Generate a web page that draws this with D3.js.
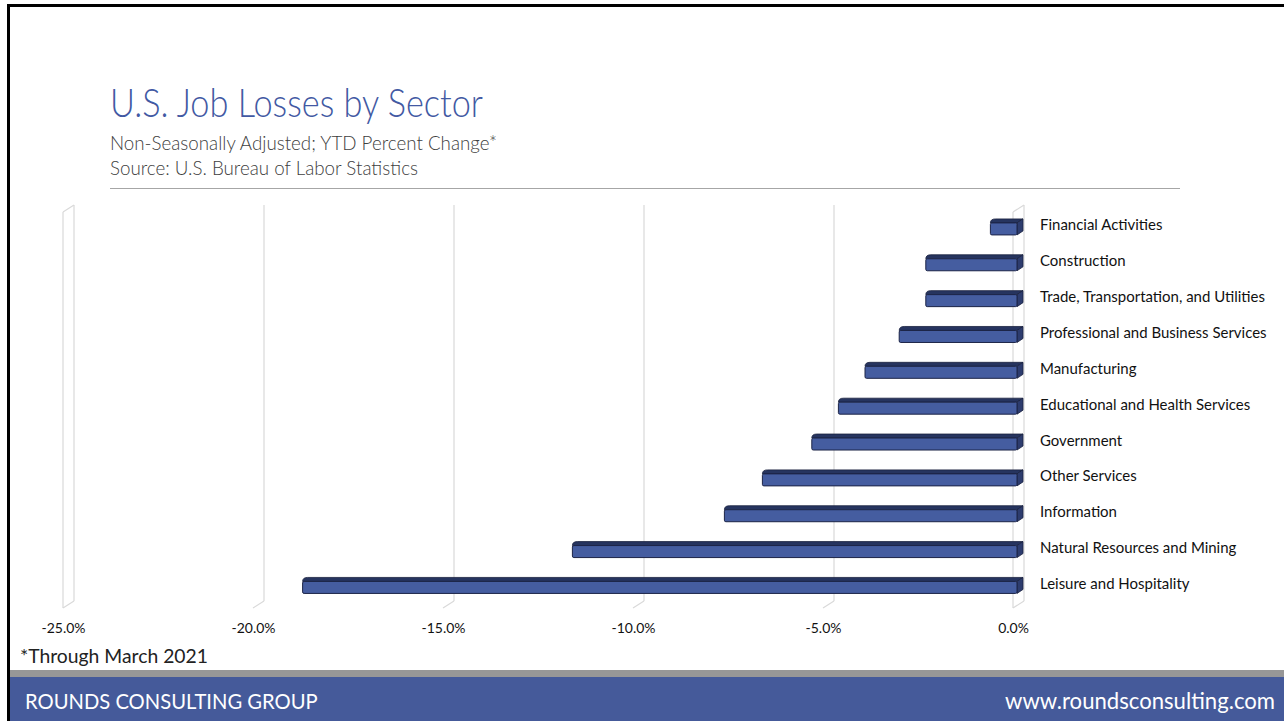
<!DOCTYPE html>
<html>
<head>
<meta charset="utf-8">
<script src="https://cdn.jsdelivr.net/npm/d3@7"></script>
<style>
  html, body { margin: 0; padding: 0; background: #fff; }
  svg { display: block; }
</style>
</head>
<body>
<svg id="chart" width="1284" height="721"></svg>
<script>
// Sectors, top to bottom
const sectors = [
  "Financial Activities",
  "Construction",
  "Trade, Transportation, and Utilities",
  "Professional and Business Services",
  "Manufacturing",
  "Educational and Health Services",
  "Government",
  "Other Services",
  "Information",
  "Natural Resources and Mining",
  "Leisure and Hospitality"
];
// YTD percent change in employment, through March 2021
const pctChange = [-0.7, -2.4, -2.4, -3.1, -4.0, -4.7, -5.4, -6.7, -7.7, -11.7, -18.8];
const tickValues = [-25, -20, -15, -10, -5, 0];

const svg = d3.select("#chart");
const W = 1284, H = 721;
const FONT = "Lato, 'Open Sans', sans-serif";

// Fit a text node's font size so it spans a given width
function fitWidth(sel, target) {
  const node = sel.node();
  const size = parseFloat(sel.attr("font-size"));
  const len = node.getComputedTextLength();
  if (len > 0) sel.attr("font-size", (size * target / len).toFixed(2));
  return sel;
}
// Keep the font size, squeeze the run to a given width
function squeeze(sel, target) {
  const len = sel.node().getComputedTextLength();
  if (len > target) sel.attr("textLength", target).attr("lengthAdjust", "spacingAndGlyphs");
  else fitWidth(sel, target);
  return sel;
}

// ---- Frame ----
svg.append("rect").attr("x", 0).attr("y", 0).attr("width", W).attr("height", H).attr("fill", "#fff");
svg.append("rect").attr("x", 7).attr("y", 4).attr("width", W - 7).attr("height", 3).attr("fill", "#000");
svg.append("rect").attr("x", 7).attr("y", 4).attr("width", 3).attr("height", H - 4).attr("fill", "#000");

// ---- Titles ----
const title = svg.append("text")
  .attr("x", 110).attr("y", 117)
  .attr("font-family", FONT)
  .attr("font-weight", 300)
  .attr("font-size", 40)
  .attr("fill", "#4259a3")
  .text("U.S. Job Losses by Sector");
squeeze(title, 373);

const sub1 = svg.append("text")
  .attr("x", 110).attr("y", 149.5)
  .attr("font-family", FONT)
  .attr("font-weight", 300)
  .attr("font-size", 20.5)
  .attr("fill", "#404040")
  .text("Non-Seasonally Adjusted; YTD Percent Change*");
squeeze(sub1, 387);

const sub2 = svg.append("text")
  .attr("x", 110).attr("y", 175)
  .attr("font-family", FONT)
  .attr("font-weight", 300)
  .attr("font-size", 20.5)
  .attr("fill", "#404040")
  .text("Source: U.S. Bureau of Labor Statistics");
squeeze(sub2, 308);

svg.append("line")
  .attr("x1", 110).attr("x2", 1180).attr("y1", 188.5).attr("y2", 188.5)
  .attr("stroke", "#a6a6a6").attr("stroke-width", 1);

// ---- 3D plot geometry ----
const x = d3.scaleLinear().domain([-25, 0]).range([63, 1013]);   // front plane
const backDX = 11, backDY = -7;                                   // depth of the walls
const floorY = 608, wallTop = 212;
const barDX = 4;                                                  // bar front offset from front plane
const depthX = 6, depthY = -4;                                    // bar depth

const y = d3.scaleBand().domain(sectors).range([209, 209 + 11 * 35.85]).paddingInner(0).paddingOuter(0);

const grid = svg.append("g").attr("stroke", "#d9d9d9").attr("stroke-width", 1.2).attr("fill", "none");
tickValues.forEach(t => {
  const xf = x(t), xb = x(t) + backDX;
  grid.append("line").attr("x1", xb).attr("x2", xb).attr("y1", wallTop + backDY).attr("y2", floorY + backDY);
  grid.append("line").attr("x1", xb).attr("x2", xf).attr("y1", floorY + backDY).attr("y2", floorY);
  if (t === tickValues[0] || t === 0) {
    grid.append("line").attr("x1", xf).attr("x2", xf).attr("y1", wallTop).attr("y2", floorY);
    grid.append("line").attr("x1", xf).attr("x2", xb).attr("y1", wallTop).attr("y2", wallTop + backDY);
  }
});

// ---- Bars ----
const bars = svg.append("g").selectAll("g.bar")
  .data(sectors.map((s, i) => ({ sector: s, value: pctChange[i] })))
  .join("g").attr("class", "bar");

bars.each(function (d) {
  const g = d3.select(this);
  const c = y(d.sector) + y.bandwidth() / 2;
  const x0 = x(d.value) + barDX, x1 = x(0) + barDX;
  const top = c - 4, bot = c + 8;
  // top face
  g.append("path")
    .attr("d", `M${x0},${top} L${x1},${top} L${x1 + depthX},${top + depthY} L${x0 + depthX - 1},${top + depthY} Q${x0},${top + depthY} ${x0},${top} Z`)
    .attr("fill", "#26345f").attr("stroke", "#1a2240").attr("stroke-width", 0.8);
  // end face
  g.append("path")
    .attr("d", `M${x1},${top} L${x1 + depthX},${top + depthY} L${x1 + depthX},${bot + depthY} L${x1},${bot} Z`)
    .attr("fill", "#2d3c6e").attr("stroke", "#1a2240").attr("stroke-width", 0.8);
  // front face
  g.append("rect")
    .attr("x", x0).attr("y", top).attr("width", x1 - x0).attr("height", bot - top)
    .attr("rx", 1.5)
    .attr("fill", "#455da0").attr("stroke", "#1c2447").attr("stroke-width", 1);
});

// ---- Category labels ----
const catLabels = svg.append("g").selectAll("text")
  .data(sectors)
  .join("text")
  .attr("x", 1040)
  .attr("y", d => y(d) + y.bandwidth() / 2 + 3.5)
  .attr("font-family", FONT)
  .attr("font-size", 13)
  .attr("fill", "#111")
  .text(d => d);
// size all category labels from the longest one
{
  const longest = catLabels.filter(d => d === "Trade, Transportation, and Utilities");
  const len = longest.node().getComputedTextLength();
  catLabels.attr("font-size", (13 * 225 / len).toFixed(2));
}

// ---- Value axis ----
const axis = d3.axisBottom(x)
  .tickValues(tickValues)
  .tickFormat(d => d.toFixed(1) + "%")
  .tickSize(0)
  .tickPadding(0);
const axisG = svg.append("g").attr("transform", `translate(0, ${633})`).call(axis);
axisG.select(".domain").remove();
axisG.selectAll("text")
  .attr("dy", 0)
  .attr("font-family", FONT)
  .attr("font-size", 13)
  .attr("fill", "#111");
{
  const t = axisG.selectAll("text").filter(d => d === -25);
  const len = t.node().getComputedTextLength();
  axisG.selectAll("text").attr("font-size", (13 * 44 / len).toFixed(2));
}

// ---- Footnote ----
const note = svg.append("text")
  .attr("x", 20).attr("y", 663)
  .attr("font-family", FONT)
  .attr("font-size", 19)
  .attr("fill", "#222")
  .text("*Through March 2021");
squeeze(note, 188);

// ---- Footer ----
svg.append("rect").attr("x", 10).attr("y", 670).attr("width", W - 10).attr("height", 7).attr("fill", "#979797");
svg.append("rect").attr("x", 10).attr("y", 677).attr("width", W - 10).attr("height", H - 677).attr("fill", "#455a9a");

const foot1 = svg.append("text")
  .attr("x", 25).attr("y", 709)
  .attr("font-family", FONT)
  .attr("font-size", 20)
  .attr("fill", "#fff")
  .text("ROUNDS CONSULTING GROUP");
squeeze(foot1, 293);

const foot2 = svg.append("text")
  .attr("x", 1275).attr("y", 709)
  .attr("text-anchor", "end")
  .attr("font-family", FONT)
  .attr("font-size", 20)
  .attr("fill", "#fff")
  .text("www.roundsconsulting.com");
squeeze(foot2, 270);
</script>
</body>
</html>
